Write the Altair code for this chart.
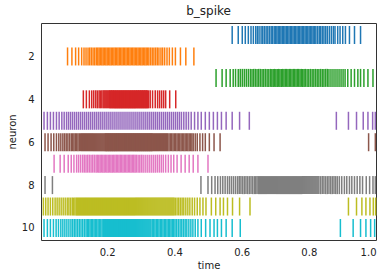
import altair as alt
import pandas as pd

n1 = [0.572,0.590,0.602,0.611,0.620,0.628,0.635,0.642,0.647,0.652,0.658,0.663,0.668,0.673,0.678,0.683,0.688,0.692,0.697,0.701,0.705,0.709,0.713,0.717,0.721,0.725,0.729,0.733,0.737,0.741,0.745,0.749,0.753,0.757,0.761,0.765,0.769,0.773,0.777,0.781,0.785,0.789,0.793,0.797,0.801,0.805,0.809,0.813,0.817,0.821,0.826,0.831,0.835,0.840,0.845,0.850,0.855,0.861,0.867,0.873,0.878,0.886,0.893,0.901,0.909,0.921,0.936,0.954]
n2 = [0.082,0.095,0.106,0.115,0.124,0.131,0.137,0.143,0.148,0.153,0.158,0.163,0.168,0.172,0.176,0.180,0.184,0.188,0.192,0.196,0.200,0.204,0.208,0.212,0.216,0.220,0.224,0.228,0.232,0.236,0.240,0.244,0.248,0.252,0.256,0.260,0.264,0.268,0.272,0.276,0.280,0.284,0.288,0.292,0.296,0.300,0.304,0.308,0.312,0.316,0.320,0.324,0.329,0.334,0.339,0.344,0.349,0.354,0.360,0.365,0.371,0.378,0.385,0.394,0.403,0.418,0.434,0.458]
n3 = [0.524,0.542,0.554,0.566,0.575,0.582,0.590,0.596,0.602,0.608,0.614,0.620,0.626,0.631,0.636,0.641,0.646,0.651,0.656,0.661,0.666,0.671,0.676,0.681,0.686,0.690,0.694,0.698,0.702,0.706,0.710,0.714,0.718,0.722,0.726,0.730,0.734,0.738,0.742,0.746,0.750,0.754,0.758,0.762,0.766,0.770,0.774,0.778,0.782,0.786,0.790,0.795,0.800,0.805,0.810,0.815,0.820,0.825,0.830,0.835,0.840,0.845,0.850,0.855,0.860,0.866,0.872,0.878,0.884,0.890,0.896,0.902,0.908,0.916,0.926,0.936,0.946,0.954,0.964,0.976,0.991]
n4 = [0.129,0.138,0.147,0.154,0.160,0.166,0.171,0.176,0.180,0.184,0.188,0.191,0.194,0.197,0.200,0.203,0.206,0.208,0.210,0.212,0.214,0.216,0.218,0.220,0.222,0.224,0.226,0.228,0.230,0.232,0.234,0.236,0.238,0.240,0.242,0.244,0.246,0.248,0.250,0.252,0.254,0.256,0.258,0.260,0.262,0.264,0.266,0.268,0.270,0.272,0.274,0.276,0.278,0.280,0.282,0.284,0.286,0.288,0.290,0.292,0.294,0.296,0.298,0.300,0.302,0.304,0.306,0.308,0.310,0.312,0.314,0.316,0.318,0.320,0.323,0.328,0.335,0.343,0.350,0.356,0.362,0.368,0.374,0.386,0.404]
n5 = [0.012,0.022,0.031,0.040,0.049,0.057,0.065,0.072,0.079,0.085,0.091,0.097,0.103,0.109,0.115,0.121,0.127,0.133,0.139,0.145,0.151,0.157,0.163,0.169,0.175,0.181,0.187,0.193,0.199,0.205,0.211,0.217,0.223,0.229,0.235,0.241,0.247,0.253,0.259,0.265,0.271,0.277,0.283,0.289,0.295,0.301,0.307,0.313,0.319,0.325,0.331,0.337,0.343,0.349,0.355,0.361,0.367,0.373,0.379,0.385,0.391,0.397,0.403,0.409,0.415,0.421,0.428,0.435,0.442,0.450,0.460,0.470,0.480,0.492,0.504,0.516,0.528,0.540,0.554,0.572,0.594,0.623,0.882,0.918,0.942,0.962,0.976,0.990,0.998]
n6 = [0.015,0.024,0.033,0.041,0.049,0.056,0.062,0.068,0.073,0.078,0.083,0.088,0.093,0.097,0.101,0.105,0.109,0.113,0.117,0.121,0.124,0.127,0.130,0.133,0.136,0.139,0.142,0.145,0.148,0.151,0.154,0.157,0.160,0.163,0.166,0.169,0.172,0.175,0.178,0.181,0.184,0.187,0.190,0.193,0.195,0.197,0.199,0.201,0.203,0.205,0.207,0.209,0.211,0.213,0.215,0.217,0.219,0.221,0.223,0.225,0.227,0.229,0.231,0.233,0.235,0.237,0.239,0.241,0.243,0.245,0.247,0.249,0.251,0.253,0.255,0.257,0.259,0.261,0.263,0.265,0.267,0.269,0.271,0.273,0.275,0.277,0.279,0.281,0.283,0.285,0.287,0.289,0.291,0.293,0.295,0.297,0.299,0.301,0.303,0.305,0.307,0.309,0.311,0.313,0.315,0.317,0.319,0.321,0.323,0.325,0.327,0.329,0.331,0.333,0.335,0.338,0.341,0.344,0.347,0.350,0.353,0.356,0.359,0.362,0.365,0.368,0.371,0.374,0.377,0.380,0.384,0.388,0.392,0.396,0.400,0.404,0.408,0.412,0.416,0.420,0.424,0.428,0.432,0.436,0.440,0.444,0.448,0.452,0.456,0.462,0.468,0.476,0.484,0.492,0.504,0.518,0.536,0.978,0.998]
n7 = [0.042,0.060,0.072,0.084,0.093,0.101,0.109,0.115,0.121,0.127,0.132,0.137,0.142,0.147,0.152,0.157,0.162,0.167,0.171,0.175,0.179,0.183,0.187,0.191,0.195,0.199,0.203,0.207,0.211,0.215,0.219,0.223,0.227,0.231,0.235,0.239,0.243,0.247,0.251,0.255,0.259,0.263,0.267,0.271,0.275,0.279,0.283,0.287,0.292,0.297,0.302,0.307,0.313,0.319,0.325,0.331,0.337,0.343,0.349,0.355,0.361,0.367,0.374,0.382,0.390,0.398,0.408,0.420,0.432,0.444,0.456,0.470,0.500]
n8 = [0.015,0.037,0.479,0.500,0.511,0.521,0.529,0.537,0.544,0.551,0.558,0.564,0.570,0.576,0.582,0.588,0.593,0.598,0.603,0.608,0.613,0.618,0.623,0.628,0.633,0.638,0.642,0.646,0.650,0.653,0.656,0.659,0.662,0.665,0.668,0.671,0.674,0.677,0.680,0.683,0.686,0.689,0.692,0.695,0.698,0.701,0.704,0.707,0.710,0.713,0.716,0.719,0.722,0.725,0.728,0.731,0.734,0.737,0.740,0.743,0.746,0.749,0.752,0.755,0.758,0.761,0.764,0.767,0.770,0.773,0.776,0.779,0.782,0.785,0.788,0.791,0.794,0.797,0.800,0.803,0.806,0.809,0.812,0.815,0.818,0.821,0.824,0.827,0.830,0.835,0.840,0.845,0.850,0.855,0.860,0.865,0.870,0.875,0.880,0.885,0.891,0.898,0.906,0.913,0.921,0.928,0.936,0.944,0.952,0.960,0.971,0.981,0.991,0.998]
n9 = [0.010,0.017,0.024,0.031,0.038,0.045,0.051,0.057,0.063,0.069,0.075,0.081,0.086,0.091,0.096,0.100,0.104,0.108,0.111,0.114,0.117,0.120,0.123,0.126,0.129,0.132,0.135,0.138,0.141,0.144,0.147,0.150,0.153,0.156,0.159,0.162,0.165,0.168,0.171,0.174,0.177,0.180,0.183,0.186,0.189,0.192,0.195,0.198,0.201,0.204,0.207,0.210,0.213,0.216,0.219,0.222,0.225,0.228,0.231,0.234,0.237,0.240,0.243,0.246,0.249,0.252,0.255,0.258,0.261,0.264,0.267,0.270,0.273,0.276,0.279,0.282,0.285,0.288,0.291,0.294,0.297,0.300,0.303,0.306,0.309,0.312,0.315,0.318,0.321,0.324,0.327,0.330,0.333,0.336,0.339,0.342,0.345,0.348,0.351,0.354,0.357,0.360,0.363,0.366,0.369,0.372,0.375,0.378,0.381,0.384,0.387,0.390,0.393,0.396,0.399,0.403,0.408,0.413,0.418,0.423,0.428,0.434,0.440,0.446,0.453,0.460,0.468,0.476,0.485,0.494,0.510,0.523,0.536,0.546,0.558,0.573,0.594,0.625,0.918,0.942,0.958,0.970,0.982,0.992,0.999]
n10 = [0.012,0.022,0.031,0.040,0.048,0.055,0.062,0.068,0.074,0.080,0.086,0.092,0.097,0.102,0.107,0.112,0.117,0.122,0.127,0.132,0.137,0.141,0.145,0.149,0.153,0.157,0.161,0.165,0.169,0.173,0.177,0.181,0.185,0.189,0.192,0.195,0.198,0.201,0.204,0.207,0.210,0.213,0.216,0.219,0.222,0.225,0.228,0.231,0.234,0.237,0.240,0.243,0.246,0.249,0.252,0.255,0.258,0.261,0.264,0.267,0.270,0.273,0.276,0.279,0.282,0.285,0.288,0.291,0.294,0.297,0.300,0.303,0.306,0.309,0.312,0.315,0.318,0.321,0.324,0.327,0.330,0.334,0.338,0.342,0.346,0.350,0.354,0.358,0.362,0.366,0.370,0.374,0.378,0.382,0.386,0.390,0.394,0.398,0.402,0.407,0.412,0.417,0.422,0.427,0.432,0.437,0.443,0.449,0.455,0.462,0.470,0.480,0.493,0.506,0.518,0.528,0.540,0.554,0.572,0.596,0.894,0.932,0.954,0.970,0.984,0.996]

spikes = [n1, n2, n3, n4, n5, n6, n7, n8, n9, n10]
neurons = list(range(1, 11))
x_ticks = [0.2, 0.4, 0.6, 0.8, 1.0]
y_ticks = [2, 4, 6, 8, 10]
tab10 = ["#1f77b4", "#ff7f0e", "#2ca02c", "#d62728", "#9467bd",
         "#8c564b", "#e377c2", "#7f7f7f", "#bcbd22", "#17becf"]

rows = []
for n, times in zip(neurons, spikes):
    for t in times:
        rows.append({"neuron": n, "time": t})
df = pd.DataFrame(rows)

FONT = "DejaVu Sans"

chart = alt.Chart(df).transform_calculate(
    y0="datum.neuron - 0.42", y1="datum.neuron + 0.42"
).mark_rule(strokeWidth=1.5, opacity=1).encode(
    x=alt.X("time:Q", title="time",
            scale=alt.Scale(domain=[0.003, 1.0], nice=False, zero=False),
            axis=alt.Axis(values=x_ticks, format=".1f", tickSize=0, labelPadding=7,
                          domain=False, grid=False, titlePadding=3)),
    y=alt.Y("y0:Q", title="neuron",
            scale=alt.Scale(domain=[0.44, 10.56], reverse=True, nice=False, zero=False),
            axis=alt.Axis(values=y_ticks, format="d", tickSize=0, labelPadding=7,
                          domain=False, grid=False, titlePadding=4)),
    y2="y1:Q",
    color=alt.Color("neuron:N", scale=alt.Scale(domain=neurons, range=tab10), legend=None),
).properties(
    width=335, height=217,
    title=alt.TitleParams("b_spike", fontSize=12, fontWeight="normal", font=FONT,
                          color="#222", offset=5),
    autosize=alt.AutoSizeParams(type="none"),
    padding={"left": 41, "top": 23, "right": 14, "bottom": 38},
).configure_view(
    stroke="#333", strokeWidth=1
).configure_axis(
    labelFont=FONT, titleFont=FONT, labelFontSize=10, titleFontSize=10,
    labelColor="#222", titleColor="#222", titleFontWeight="normal"
)

chart.save("out.html", embed_options={"renderer": "svg", "actions": False})
